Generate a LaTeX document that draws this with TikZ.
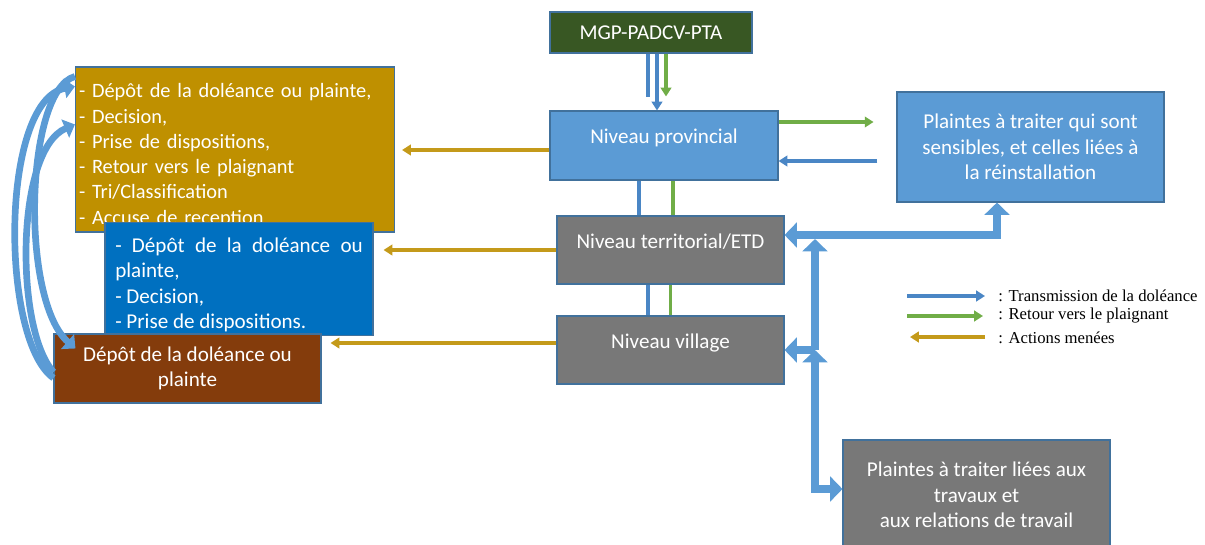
\documentclass[tikz,border=0pt]{standalone}
\usepackage{fontspec}
\setmainfont{Carlito}
\newfontfamily\legfont{Liberation Serif}
\usepackage{tikz}
\usetikzlibrary{positioning, arrows.meta, calc}
\definecolor{mgpGreen}{HTML}{385723}
\definecolor{lvlBlue}{HTML}{5B9BD5}
\definecolor{lvlGray}{HTML}{787878}
\definecolor{edgeBlue}{HTML}{41719C}
\definecolor{actGold}{HTML}{BF9000}
\definecolor{actBlue}{HTML}{0070C0}
\definecolor{actBrown}{HTML}{843C0C}
\definecolor{lnBlue}{HTML}{4A86C5}
\definecolor{lnGreen}{HTML}{70AD47}
\definecolor{lnGold}{HTML}{C49A1A}

\begin{document}
\begin{tikzpicture}[
  box/.style={draw=edgeBlue, line width=0.6pt, text=white, inner sep=2pt,
              font=\fontsize{12}{14.4}\selectfont, align=center},
  lvl/.style={box, text height=9pt, text depth=11pt},
  bln/.style={lnBlue, line width=2pt},
  grn/.style={lnGreen, line width=2pt},
  orng/.style={lnGold, line width=2pt},
  tip/.style={-{Triangle[length=5pt,width=6pt]}},
  blk/.style={lvlBlue, line width=5pt},
  curv/.style={lvlBlue, line width=3.8pt, -{Triangle[length=6pt,width=11pt]}},
  leg/.style={font=\legfont\fontsize{9.5}{11}\selectfont, anchor=west, inner sep=0pt}
]
\useasboundingbox (0,0) rectangle (24.1,-10.88);

% levels
\node[box, fill=mgpGreen, minimum width=4.04cm, minimum height=0.82cm] (mgp) at (13.02,-0.65) {MGP-PADCV-PTA};
\node[lvl, fill=lvlBlue, minimum width=4.56cm, minimum height=1.38cm] (prov) at (13.28,-2.91) {Niveau provincial};
\node[lvl, fill=lvlGray, minimum width=4.54cm, minimum height=1.36cm] (terr) at (13.41,-5.0) {Niveau territorial/ETD};
\node[lvl, fill=lvlGray, minimum width=4.54cm, minimum height=1.36cm] (vill) at (13.41,-7.0) {Niveau village};

\node[box, fill=lvlBlue, minimum width=5.34cm, minimum height=2.2cm] (sens) at (20.61,-2.94)
  {Plaintes à traiter qui sont\\sensibles, et celles liées à\\la réinstallation};
\node[box, fill=lvlGray, minimum width=5.34cm, minimum height=2.2cm] (trav) at (19.53,-9.9)
  {Plaintes à traiter liées aux\\travaux et\\aux relations de travail};

% actions
\node[box, fill=actGold, minimum width=6.32cm, minimum height=3.3cm, text width=6.24cm, align=left,
      font=\fontsize{11.6}{14.4}\selectfont] (actprov) at (4.7,-2.99)
  {\rule{0pt}{15pt}- Dépôt de la doléance ou plainte,\\- Decision,\\- Prise de dispositions,\\- Retour vers le plaignant\\- Tri/Classification\\- Accuse de reception};
\node[box, fill=actBlue, minimum width=5.36cm, minimum height=2.16cm, text width=4.95cm, align=justify] (actterr) at (4.78,-5.58)
  {\rule{0pt}{15pt}- Dépôt de la doléance ou plainte,\\- Decision,\\- Prise de dispositions.};
\node[box, fill=actBrown, minimum width=5.34cm, minimum height=1.38cm] (actvill) at (3.75,-7.37)
  {Dépôt de la doléance ou\\plainte};

% vertical links
\draw[bln] ([xshift=-0.06cm]mgp.south) -- ([xshift=-0.06cm,yshift=0.26cm]mgp.south |- prov.north);
\draw[bln, tip] ([xshift=0.12cm]mgp.south) -- ([xshift=0.12cm]mgp.south |- prov.north);
\draw[grn, tip] ([xshift=0.3cm]mgp.south) -- ([xshift=0.3cm,yshift=0.28cm]mgp.south |- prov.north);
\draw[bln] ([xshift=-0.5cm]prov.south) -- ([xshift=-0.5cm]prov.south |- terr.north);
\draw[grn] ([xshift=0.18cm]prov.south) -- ([xshift=0.18cm]prov.south |- terr.north);
\draw[bln] ([xshift=-0.45cm]terr.south) -- ([xshift=-0.45cm]terr.south |- vill.north);
\draw[grn] (terr.south) -- (terr.south |- vill.north);

% provincial <-> sensitive complaints
\draw[grn, tip] ([yshift=0.47cm]prov.east) -- ++(1.9,0);
\draw[bln, tip] ([xshift=-0.38cm,yshift=-0.28cm]sens.west) coordinate (bk) -- (bk -| prov.east);

% actions taken
\draw[orng, tip] ([yshift=-0.09cm]prov.west) coordinate (o1) -- ([xshift=0.14cm]o1 -| actprov.east);
\draw[orng, tip] (terr.west) -- ([xshift=0.2cm]terr.west -| actterr.east);
\draw[orng, tip] ([yshift=0.14cm]vill.west) coordinate (o3) -- ([xshift=0.18cm]o3 -| actvill.east);

% block arrows
\coordinate (jtop) at (16.3,-4.78);
\coordinate (jmid) at (16.3,-7.0);
\coordinate (jbot) at (16.3,-9.78);
\draw[blk, {Triangle[length=7pt,width=14pt]}-{Triangle[length=7pt,width=14pt]}]
  ([yshift=0.3cm]terr.east) -| ([xshift=-0.67cm]sens.south);
\draw[blk, -{Triangle[length=7pt,width=14pt]}] (jmid) -- (jtop);
\draw[blk, -{Triangle[length=7pt,width=14pt]}] (jmid) -- (jmid -| vill.east);
\draw[blk, {Triangle[length=7pt,width=14pt]}-{Triangle[length=7pt,width=14pt]}] (jmid) -- (jbot) -- (jbot -| trav.west);

% loops on the left
\draw[curv] ([yshift=-0.19cm]actvill.west) .. controls (0.0,-6.8) and (0.0,-2.0) .. ([yshift=-0.4cm]actprov.north west);
\draw[curv] ([yshift=-0.07cm]actvill.west) .. controls (0.3,-6.6) and (0.3,-3.0) .. ([yshift=-1.16cm]actprov.north west);
\draw[curv] ([yshift=-0.2cm]actprov.north west) .. controls (0.5,-1.8) and (0.4,-6.0) .. ([xshift=0.44cm,yshift=-0.3cm]actvill.north west);

% legend
\node[leg] (lgtr)  at (19.96,-5.92) {: Transmission de la doléance};
\node[leg] (lgret) at (19.96,-6.32) {: Retour vers le plaignant};
\node[leg] (lgact) at (19.96,-6.76) {: Actions menées};
\coordinate (l1) at (18.14,-5.92);
\coordinate (l2) at (18.14,-6.32);
\coordinate (l3) at (18.2,-6.74);
\draw[bln, tip] (l1) -- ([xshift=-0.26cm]lgtr.west);
\draw[grn, tip] (l2) -- ([xshift=-0.3cm]lgret.west);
\draw[orng, tip] ([xshift=-0.26cm]lgact.west |- l3) -- (l3);
\end{tikzpicture}
\end{document}
